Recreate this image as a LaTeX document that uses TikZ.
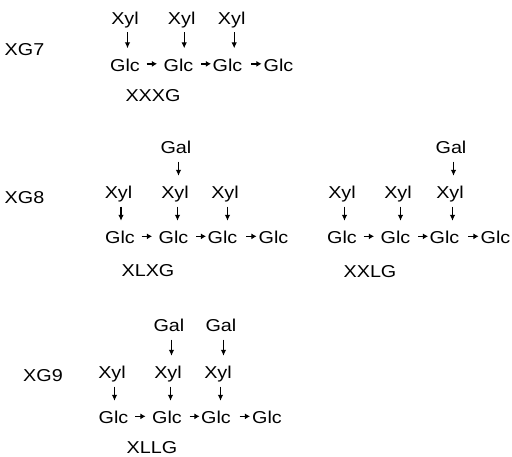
\documentclass[tikz,border=0pt]{standalone}
\usepackage{fontspec}
\setmainfont{Liberation Sans}[FakeStretch=1.15]
\usetikzlibrary{arrows.meta}
\tikzset{
  lbl/.style={inner sep=0pt, anchor=base, font=\fontsize{17.2}{20}\selectfont},
  down/.style={line width=1.1pt, -{Latex[length=6pt,width=5.5pt]}},
  chain/.style={line width=1.5pt, -{Latex[length=5pt,width=6pt]}},
}
% vertical link from residue #1 down to residue #2
\newcommand\droparrow[2]{\draw[down] ([xshift=2.5pt,yshift=-8pt]#1.base) -- ([xshift=2.5pt,yshift=10pt]#1.base |- #2.north);}
% backbone link between two glucose residues, #3/#4 = gaps left at both ends
\newcommand\chainarrow[4]{\draw[chain, shorten <=#3, shorten >=#4] ([yshift=1pt]#1.east) -- ([yshift=1pt]#2.west);}
\begin{document}
\begin{tikzpicture}[x=1pt,y=-1pt]
\useasboundingbox (0,0) rectangle (512,456);

% ---------------- XG7 ----------------
\node[lbl] (t7) at (24.5,55) {XG7};
\node[lbl] (a7x1) at (125,24) {Xyl};
\node[lbl] (a7x2) at (181.7,24) {Xyl};
\node[lbl] (a7x3) at (231.7,24) {Xyl};
\node[lbl] (a7g1) at (125,71) {Glc};
\node[lbl] (a7g2) at (178.5,71) {Glc};
\node[lbl] (a7g3) at (227.5,71) {Glc};
\node[lbl] (a7g4) at (278.5,71) {Glc};
\node[lbl] (n7) at (153,101) {XXXG};
\droparrow{a7x1}{a7g1}
\droparrow{a7x2}{a7g2}
\droparrow{a7x3}{a7g3}
\chainarrow{a7g1}{a7g2}{6.5pt}{6.5pt}
\chainarrow{a7g2}{a7g3}{7.5pt}{1.5pt}
\chainarrow{a7g3}{a7g4}{8.5pt}{2pt}

% ---------------- XG8 : XLXG ----------------
\node[lbl] (t8) at (24.5,203) {XG8};
\node[lbl] (b8l) at (176,153.5) {Gal};
\node[lbl] (b8x1) at (118.5,198.5) {Xyl};
\node[lbl] (b8x2) at (175,198.5) {Xyl};
\node[lbl] (b8x3) at (225,198.5) {Xyl};
\node[lbl] (b8g1) at (120,243.5) {Glc};
\node[lbl] (b8g2) at (173.5,243.5) {Glc};
\node[lbl] (b8g3) at (222.5,243.5) {Glc};
\node[lbl] (b8g4) at (273.5,243.5) {Glc};
\node[lbl] (n8a) at (148,276.5) {XLXG};
\droparrow{b8l}{b8x2}
\droparrow{b8x1}{b8g1}
\droparrow{b8x2}{b8g2}
\droparrow{b8x3}{b8g3}
\chainarrow{b8g1}{b8g2}{6.5pt}{6.5pt}
\chainarrow{b8g2}{b8g3}{7.5pt}{1.5pt}
\chainarrow{b8g3}{b8g4}{8.5pt}{2pt}

% ---------------- XG8 : XXLG ----------------
\node[lbl] (c8l) at (451,153.5) {Gal};
\node[lbl] (c8x1) at (342,198.5) {Xyl};
\node[lbl] (c8x2) at (398,198.5) {Xyl};
\node[lbl] (c8x3) at (450,198.5) {Xyl};
\node[lbl] (c8g1) at (342,243.5) {Glc};
\node[lbl] (c8g2) at (395.5,243.5) {Glc};
\node[lbl] (c8g3) at (444.5,243.5) {Glc};
\node[lbl] (c8g4) at (495.5,243.5) {Glc};
\node[lbl] (n8b) at (370,277) {XXLG};
\droparrow{c8l}{c8x3}
\droparrow{c8x1}{c8g1}
\droparrow{c8x2}{c8g2}
\droparrow{c8x3}{c8g3}
\chainarrow{c8g1}{c8g2}{6.5pt}{6.5pt}
\chainarrow{c8g2}{c8g3}{7.5pt}{1.5pt}
\chainarrow{c8g3}{c8g4}{8.5pt}{2pt}

% ---------------- XG9 : XLLG ----------------
\node[lbl] (t9) at (43,381.5) {XG9};
\node[lbl] (d9l1) at (169,331.5) {Gal};
\node[lbl] (d9l2) at (221,331.5) {Gal};
\node[lbl] (d9x1) at (112,378.5) {Xyl};
\node[lbl] (d9x2) at (168,378.5) {Xyl};
\node[lbl] (d9x3) at (218,378.5) {Xyl};
\node[lbl] (d9g1) at (113.5,423.5) {Glc};
\node[lbl] (d9g2) at (167,423.5) {Glc};
\node[lbl] (d9g3) at (216,423.5) {Glc};
\node[lbl] (d9g4) at (267,423.5) {Glc};
\node[lbl] (n9) at (152,453.5) {XLLG};
\droparrow{d9l1}{d9x2}
\droparrow{d9l2}{d9x3}
\droparrow{d9x1}{d9g1}
\droparrow{d9x2}{d9g2}
\droparrow{d9x3}{d9g3}
\chainarrow{d9g1}{d9g2}{6.5pt}{6.5pt}
\chainarrow{d9g2}{d9g3}{7.5pt}{1.5pt}
\chainarrow{d9g3}{d9g4}{8.5pt}{2pt}
\end{tikzpicture}
\end{document}
